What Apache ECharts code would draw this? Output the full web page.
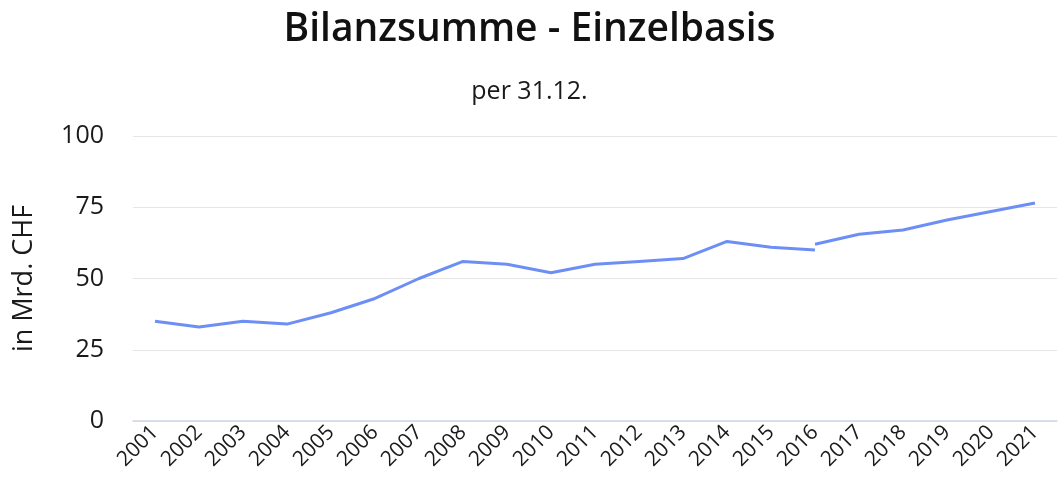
<!DOCTYPE html>
<html><head><meta charset="utf-8">
<script src="https://cdn.jsdelivr.net/npm/echarts@6/dist/echarts.min.js"></script>
<style>html,body{margin:0;padding:0;background:#fff}#c{width:1059px;height:502px}</style>
</head><body><div id="c"></div>
<script>
var years = ['2001','2002','2003','2004','2005','2006','2007','2008','2009','2010','2011','2012','2013','2014','2015','2016','2017','2018','2019','2020','2021'];
var seriesOld = [35,33,35,34,38,43,50,56,55,52,55,56,57,63,61,60];
var seriesNew = [62,65.5,67,70.5,73.5,76.5];
var yTicks = [0,25,50,75,100];

var dataOld = years.map(function(y,i){return i<seriesOld.length?seriesOld[i]:null;});
var dataNew = years.map(function(y,i){var k=i-(years.length-seriesNew.length);return k>=0?seriesNew[k]:null;});

var F = 'Open Sans';
var chart = echarts.init(document.getElementById('c'));
chart.setOption({
  animation:false,
  title:[{text:'Bilanzsumme - Einzelbasis',left:'center',top:5,textStyle:{fontFamily:F,fontSize:39,fontWeight:600,color:'#111'}},
         {text:'per 31.12.',left:'center',top:74,textStyle:{fontFamily:F,fontSize:25,fontWeight:'normal',color:'#1a1a1a'}}],
  grid:{left:133,right:2,top:136,bottom:81},
  xAxis:{type:'category',data:years,boundaryGap:true,
    axisLine:{lineStyle:{color:'#cfd7e6',width:1.5}},axisTick:{show:false},
    axisLabel:{rotate:45,fontFamily:F,fontSize:21,color:'#1a1a1a',margin:8,interval:0}},
  yAxis:{type:'value',min:yTicks[0],max:yTicks[yTicks.length-1],interval:25,
    name:'in Mrd. CHF',nameLocation:'middle',nameGap:95,nameRotate:90,
    nameTextStyle:{fontFamily:F,fontSize:27,color:'#1a1a1a'},
    axisLine:{show:false},axisTick:{show:false},
    axisLabel:{fontFamily:F,fontSize:25,color:'#1a1a1a',margin:29},
    splitLine:{lineStyle:{color:'#e6e6e6',width:1}}},
  series:[
    {type:'line',data:dataOld,symbol:'none',lineStyle:{color:'#6d8ff5',width:3},connectNulls:false},
    {type:'line',data:dataNew,symbol:'none',lineStyle:{color:'#6d8ff5',width:3},connectNulls:false}
  ]
});
</script></body></html>
